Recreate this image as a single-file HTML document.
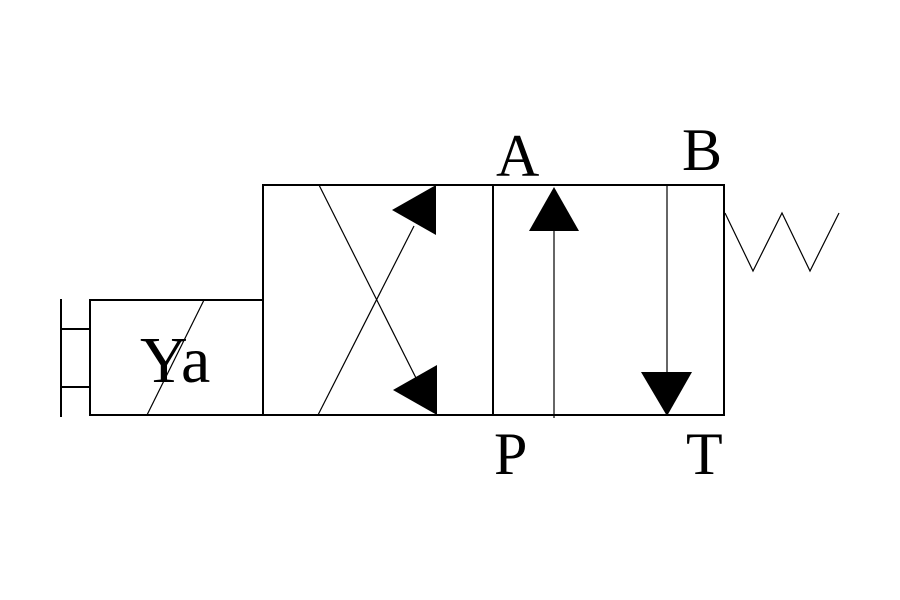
<!DOCTYPE html>
<html><head><style>body{margin:0;background:#fff}svg{display:block}</style></head><body>
<svg width="900" height="600" xmlns="http://www.w3.org/2000/svg">
<rect width="900" height="600" fill="#fff"/>
<g stroke="#000" fill="none" stroke-width="2">
<line x1="61" y1="299" x2="61" y2="417"/>
<line x1="61" y1="329" x2="90" y2="329"/>
<line x1="61" y1="387" x2="90" y2="387"/>
<rect x="90" y="300" width="173" height="115"/>
<rect x="263" y="185" width="461" height="230"/>
<line x1="493" y1="185" x2="493" y2="415"/>
</g>
<g stroke="#000" fill="none" stroke-width="1.2">
<line x1="204" y1="300" x2="147" y2="415"/>
<line x1="319" y1="185" x2="416" y2="378"/>
<line x1="318" y1="415" x2="414" y2="226"/>
<line x1="554" y1="225" x2="554" y2="418"/>
<line x1="667" y1="185" x2="667" y2="380"/>
<polyline points="725,213 753,271 782,213 810,271 839,213"/>
</g>
<g fill="#000">
<polygon points="392,210 436,185 436,235"/>
<polygon points="393,390 437,365 437,415"/>
<polygon points="554,187 529,231 579,231"/>
<polygon points="667,416 641,372 692,372"/>
</g>
<g font-family="Liberation Serif, serif" font-size="60" fill="#000">
<text x="496" y="176">A</text>
<text x="682" y="170">B</text>
<text x="494" y="474">P</text>
<text x="686" y="474">T</text>
<text x="140" y="382" font-size="66">Ya</text>
</g>
</svg>
</body></html>
